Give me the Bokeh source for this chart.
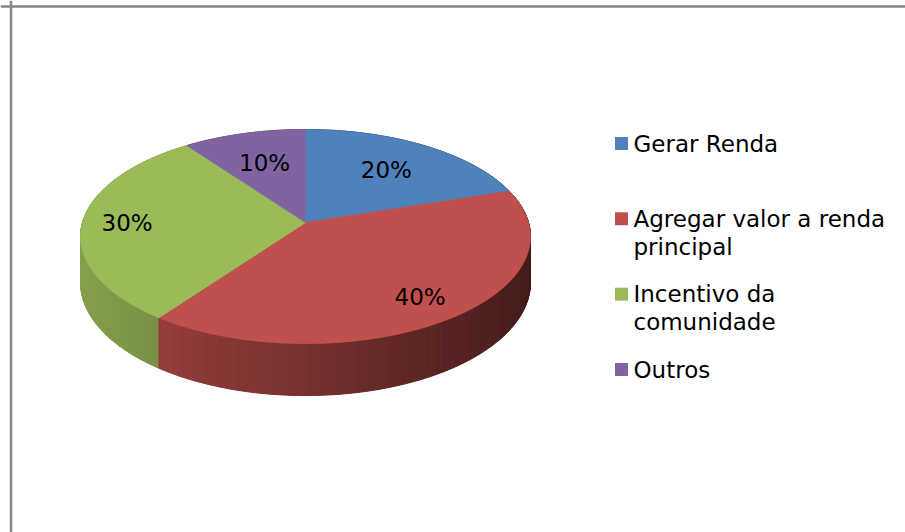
import numpy as np
from bokeh.plotting import figure
from bokeh.models import Range1d, Span
from bokeh.core.properties import value
from bokeh.embed import file_html
from bokeh.resources import INLINE

# ---------------- data ----------------
categories = ["Gerar Renda", "Agregar valor a renda principal",
              "Incentivo da comunidade", "Outros"]
legend_labels = ["Gerar Renda", "Agregar valor a renda\nprincipal",
                 "Incentivo da\ncomunidade", "Outros"]
percent = [20, 40, 30, 10]
pct_labels = ["20%", "40%", "30%", "10%"]
colors = ["#4F81BD", "#C0504D", "#9BBB59", "#8064A2"]

# ---------------- layout / style ----------------
W, H = 905, 532
CX, CY = 305.0, 222.0      # projected pie centre
RX, RY = 223.0, 105.2      # projected radii
K = 0.131                  # perspective strength
DEPTH = 45.2               # pie thickness
label_r = [0.66, 0.80, 0.80, 0.64]
FONT = value("DejaVu Sans")
LEG_X_SQ, LEG_X_TXT = 621, 633
LEG_TOP, LEG_BOT = 143, 369
LINE_H = 28

p = figure(width=W, height=H, output_backend="svg", toolbar_location=None,
           x_range=Range1d(0, W), y_range=Range1d(H, 0),
           min_border=0, outline_line_color=None, background_fill_color="white",
           border_fill_color="white")
p.axis.visible = False
p.grid.visible = False


def proj(phi, r=1.0):
    u = r * np.sin(phi)
    v = r * np.cos(phi)
    d = 1 + K * v
    return CX + RX * u / d, CY - RY * v / d, d


def shade(hexcol, f):
    h = hexcol.lstrip("#")
    rgb = [int(h[i:i + 2], 16) for i in (0, 2, 4)]
    return "#%02x%02x%02x" % tuple(int(max(0, min(255, c * f))) for c in rgb)


total = float(sum(percent))
cum = np.concatenate([[0.0], np.cumsum(percent)]) / total * 2 * np.pi

# ---------------- side strips ----------------
N = 720
phis = np.linspace(0, 2 * np.pi, N + 1)
strips = []
for i in range(N):
    a0, a1 = phis[i], phis[i + 1]
    mid = 0.5 * (a0 + a1)
    s = int(np.searchsorted(cum, mid, side="right") - 1)
    x0, y0, d0 = proj(a0)
    x1, y1, d1 = proj(a1)
    xs = [x0, x1, x1, x0]
    ys = [y0, y1, y1 + DEPTH / d1, y0 + DEPTH / d0]
    xm = 0.5 * (x0 + x1)
    f = float(np.clip(0.85 - 0.0011 * (xm - 90), 0.36, 0.9))
    strips.append((np.cos(mid), xs, ys, shade(colors[s], f)))
strips.sort(key=lambda t: -t[0])
p.patches([t[1] for t in strips], [t[2] for t in strips],
          fill_color=[t[3] for t in strips], line_color=[t[3] for t in strips],
          line_width=1)

# ---------------- top surface ----------------
txs, tys = [], []
for s in range(len(percent)):
    a = np.linspace(cum[s], cum[s + 1], 120)
    ax, ay, _ = proj(a)
    txs.append([CX] + list(ax))
    tys.append([CY] + list(ay))
p.patches(txs, tys, fill_color=colors, line_color=colors, line_width=0.8)

# ---------------- percentage labels ----------------
mids = 0.5 * (cum[:-1] + cum[1:])
lx, ly = [], []
for s, m in enumerate(mids):
    x, y, _ = proj(m, label_r[s])
    lx.append(x)
    ly.append(y)
p.text(lx, ly, text=pct_labels, text_font=FONT, text_font_size="23px",
       text_align="center", text_baseline="middle", text_color="black")

# ---------------- legend ----------------
item_y = np.linspace(LEG_TOP, LEG_BOT, len(legend_labels))
p.rect([LEG_X_SQ] * len(colors), list(item_y), width=13, height=13,
       fill_color=colors, line_color=None)
tx, ty, tt = [], [], []
for yv, lab in zip(item_y, legend_labels):
    for j, line in enumerate(lab.split("\n")):
        tx.append(LEG_X_TXT)
        ty.append(yv + j * LINE_H)
        tt.append(line)
p.text(tx, ty, text=tt, text_font=FONT, text_font_size="23px",
       text_align="left", text_baseline="middle", text_color="black")

# ---------------- chart border (top & left visible) ----------------
p.add_layout(Span(location=6, dimension="width", line_color="#868686", line_width=2.5))
p.add_layout(Span(location=10.5, dimension="height", line_color="#868686", line_width=2.5))

open("out.html", "w").write(file_html(p, INLINE))
